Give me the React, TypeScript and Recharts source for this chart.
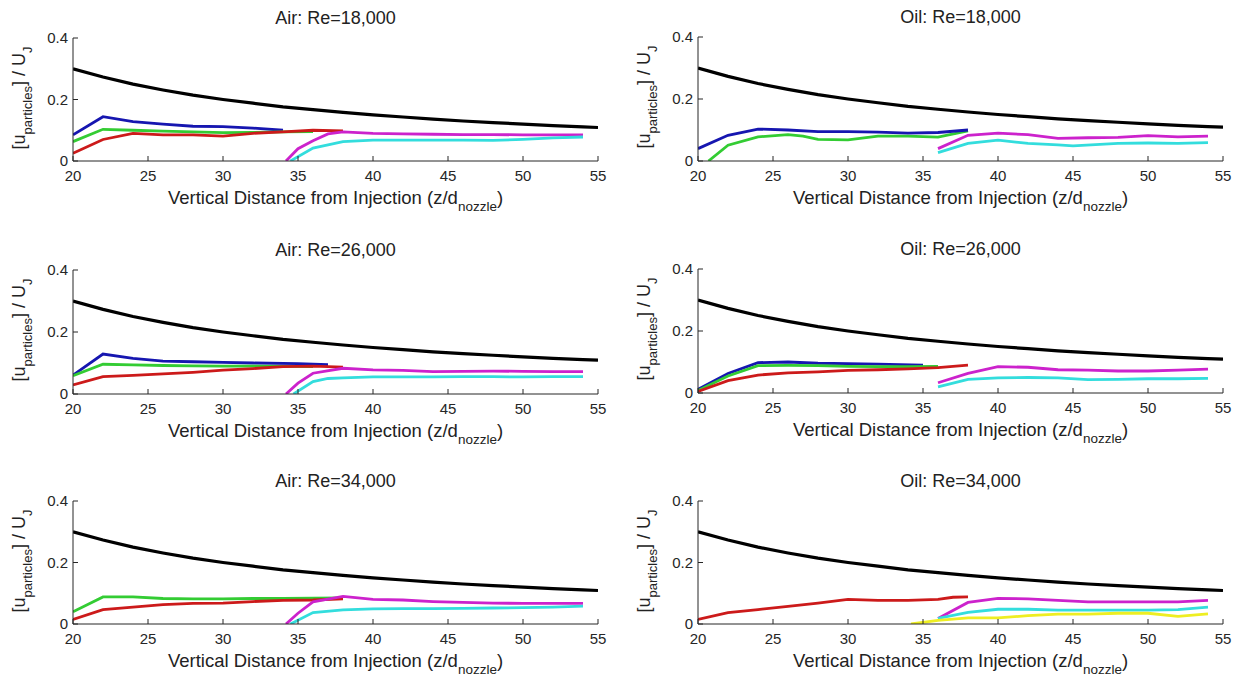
import React from 'react';
import { LineChart, Line, XAxis, YAxis } from 'recharts';

type Pt = [number, number];

const xTicks = [20, 25, 30, 35, 40, 45, 50, 55];
const yTicks = [0, 0.2, 0.4];

// Jet centreline velocity (black)
const jet: Pt[] = [[20, 0.3], [22, 0.273], [24, 0.25], [26, 0.231], [28, 0.214], [30, 0.2], [32, 0.188], [34, 0.176], [36, 0.167], [38, 0.158], [40, 0.15], [42, 0.143], [44, 0.136], [46, 0.13], [48, 0.125], [50, 0.12], [52, 0.115], [54, 0.111], [55, 0.109]];

// Air Re=18,000
const air18Blue: Pt[] = [[20, 0.085], [22, 0.144], [24, 0.128], [26, 0.12], [28, 0.113], [30, 0.112], [32, 0.107], [34, 0.1]];
const air18Green: Pt[] = [[20, 0.063], [22, 0.103], [24, 0.1], [26, 0.097], [28, 0.095], [30, 0.092], [32, 0.093], [34, 0.095], [36, 0.096]];
const air18Red: Pt[] = [[20, 0.025], [22, 0.07], [24, 0.09], [26, 0.085], [28, 0.085], [30, 0.081], [32, 0.09], [34, 0.095], [36, 0.1], [38, 0.098]];
const air18Magenta: Pt[] = [[34.2, 0], [35, 0.04], [36, 0.066], [37, 0.088], [38, 0.095], [40, 0.09], [42, 0.088], [44, 0.087], [46, 0.086], [48, 0.086], [50, 0.085], [52, 0.085], [54, 0.085]];
const air18Cyan: Pt[] = [[34.5, 0], [36, 0.042], [38, 0.063], [40, 0.068], [42, 0.068], [44, 0.068], [46, 0.068], [48, 0.067], [50, 0.07], [52, 0.075], [54, 0.078]];

// Oil Re=18,000
const oil18Blue: Pt[] = [[20, 0.04], [22, 0.083], [24, 0.103], [26, 0.1], [28, 0.095], [30, 0.095], [32, 0.093], [34, 0.09], [36, 0.092], [38, 0.1]];
const oil18Green: Pt[] = [[20.7, 0], [22, 0.051], [24, 0.078], [26, 0.085], [27, 0.08], [28, 0.07], [30, 0.068], [32, 0.08], [34, 0.08], [36, 0.077], [38, 0.097]];
const oil18Magenta: Pt[] = [[36, 0.04], [38, 0.083], [40, 0.09], [42, 0.085], [44, 0.073], [46, 0.075], [48, 0.076], [50, 0.082], [52, 0.078], [54, 0.08]];
const oil18Cyan: Pt[] = [[36, 0.027], [38, 0.057], [40, 0.067], [42, 0.057], [44, 0.052], [45, 0.049], [48, 0.057], [50, 0.058], [52, 0.057], [54, 0.059]];

// Air Re=26,000
const air26Blue: Pt[] = [[20, 0.061], [22, 0.129], [24, 0.115], [26, 0.106], [28, 0.104], [30, 0.102], [32, 0.1], [35, 0.098], [37, 0.095]];
const air26Green: Pt[] = [[20, 0.059], [22, 0.096], [24, 0.094], [26, 0.092], [28, 0.091], [30, 0.09], [32, 0.09], [34, 0.089], [36, 0.088]];
const air26Red: Pt[] = [[20, 0.029], [22, 0.056], [24, 0.06], [26, 0.065], [28, 0.07], [30, 0.077], [32, 0.082], [34, 0.088], [36, 0.09], [38, 0.087]];
const air26Magenta: Pt[] = [[34.2, 0], [35, 0.035], [36, 0.067], [38, 0.083], [40, 0.078], [42, 0.076], [44, 0.072], [46, 0.073], [48, 0.074], [50, 0.073], [52, 0.072], [54, 0.072]];
const air26Cyan: Pt[] = [[34.7, 0], [36, 0.04], [37, 0.05], [38, 0.052], [40, 0.055], [42, 0.055], [44, 0.055], [46, 0.056], [48, 0.056], [50, 0.055], [52, 0.056], [54, 0.056]];

// Oil Re=26,000
const oil26Blue: Pt[] = [[20, 0.012], [22, 0.063], [24, 0.098], [26, 0.1], [28, 0.096], [30, 0.095], [32, 0.093], [35, 0.09]];
const oil26Green: Pt[] = [[20, 0.008], [22, 0.055], [24, 0.088], [26, 0.089], [28, 0.088], [30, 0.086], [32, 0.085], [34, 0.085], [36, 0.086]];
const oil26Red: Pt[] = [[20, 0.005], [22, 0.04], [24, 0.058], [26, 0.065], [28, 0.068], [30, 0.073], [32, 0.075], [34, 0.078], [36, 0.082], [38, 0.09]];
const oil26Magenta: Pt[] = [[36, 0.033], [38, 0.063], [40, 0.085], [42, 0.083], [44, 0.075], [46, 0.074], [48, 0.071], [50, 0.071], [52, 0.074], [54, 0.077]];
const oil26Cyan: Pt[] = [[36, 0.02], [38, 0.044], [40, 0.049], [42, 0.05], [44, 0.049], [46, 0.043], [48, 0.044], [50, 0.046], [52, 0.046], [54, 0.047]];

// Air Re=34,000
const air34Green: Pt[] = [[20, 0.04], [22, 0.088], [24, 0.088], [26, 0.083], [28, 0.082], [30, 0.082], [32, 0.083], [34, 0.083], [36, 0.084], [38, 0.085]];
const air34Red: Pt[] = [[20, 0.015], [22, 0.047], [24, 0.055], [26, 0.063], [28, 0.067], [30, 0.068], [32, 0.073], [34, 0.077], [36, 0.078], [38, 0.082]];
const air34Magenta: Pt[] = [[34.2, 0], [35, 0.035], [36, 0.072], [38, 0.09], [40, 0.08], [42, 0.078], [44, 0.073], [46, 0.07], [48, 0.068], [50, 0.067], [52, 0.067], [54, 0.067]];
const air34Cyan: Pt[] = [[34.5, 0], [36, 0.037], [38, 0.046], [40, 0.049], [42, 0.05], [44, 0.05], [46, 0.051], [48, 0.052], [50, 0.053], [52, 0.055], [54, 0.058]];

// Oil Re=34,000
const oil34Red: Pt[] = [[20, 0.015], [22, 0.037], [24, 0.047], [26, 0.057], [28, 0.068], [30, 0.08], [32, 0.077], [34, 0.077], [36, 0.08], [37, 0.087], [38, 0.088]];
const oil34Magenta: Pt[] = [[36, 0.018], [38, 0.07], [40, 0.083], [42, 0.082], [44, 0.077], [46, 0.072], [48, 0.072], [50, 0.072], [52, 0.072], [54, 0.077]];
const oil34Cyan: Pt[] = [[36, 0.018], [38, 0.038], [40, 0.048], [42, 0.048], [44, 0.045], [46, 0.045], [48, 0.045], [50, 0.045], [52, 0.047], [54, 0.055]];
const oil34Yellow: Pt[] = [[34.2, 0], [36, 0.012], [38, 0.02], [40, 0.02], [42, 0.027], [44, 0.032], [46, 0.032], [48, 0.035], [50, 0.035], [52, 0.025], [54, 0.033]];

const C = {
  black: '#000000',
  blue: '#1616b0',
  green: '#33cc33',
  red: '#cc1a1a',
  magenta: '#cc22cc',
  cyan: '#33dddd',
  yellow: '#eeee22',
};

const FONT = '"Liberation Sans", Arial, Helvetica, sans-serif';
const AXIS = '#262626';

type Series = { data: Pt[]; color: string };
type Panel = { title: string; left: number; top: number; bottom: number; series: Series[] };

const panels: Panel[] = [
  { title: 'Air: Re=18,000', left: 73, top: 38, bottom: 161, series: [
    { data: air18Blue, color: C.blue }, { data: air18Green, color: C.green }, { data: air18Red, color: C.red },
    { data: air18Magenta, color: C.magenta }, { data: air18Cyan, color: C.cyan }, { data: jet, color: C.black } ] },
  { title: 'Oil: Re=18,000', left: 698, top: 37, bottom: 161, series: [
    { data: oil18Green, color: C.green }, { data: oil18Blue, color: C.blue },
    { data: oil18Magenta, color: C.magenta }, { data: oil18Cyan, color: C.cyan }, { data: jet, color: C.black } ] },
  { title: 'Air: Re=26,000', left: 73, top: 270, bottom: 394, series: [
    { data: air26Blue, color: C.blue }, { data: air26Green, color: C.green }, { data: air26Red, color: C.red },
    { data: air26Magenta, color: C.magenta }, { data: air26Cyan, color: C.cyan }, { data: jet, color: C.black } ] },
  { title: 'Oil: Re=26,000', left: 698, top: 269, bottom: 393, series: [
    { data: oil26Blue, color: C.blue }, { data: oil26Green, color: C.green }, { data: oil26Red, color: C.red },
    { data: oil26Magenta, color: C.magenta }, { data: oil26Cyan, color: C.cyan }, { data: jet, color: C.black } ] },
  { title: 'Air: Re=34,000', left: 73, top: 501, bottom: 624, series: [
    { data: air34Green, color: C.green }, { data: air34Red, color: C.red },
    { data: air34Magenta, color: C.magenta }, { data: air34Cyan, color: C.cyan }, { data: jet, color: C.black } ] },
  { title: 'Oil: Re=34,000', left: 698, top: 501, bottom: 624, series: [
    { data: oil34Red, color: C.red }, { data: oil34Magenta, color: C.magenta },
    { data: oil34Cyan, color: C.cyan }, { data: oil34Yellow, color: C.yellow }, { data: jet, color: C.black } ] },
];

const PLOT_W = 525;
const ML = 60; // y-axis width
const MT = 10;
const MR = 15;
const XH = 40;

const toPts = (p: Pt[]) => p.map(([z, v]) => ({ z, v }));

const XTick = (props: any) => {
  const { x, y, payload } = props;
  return (
    <g>
      <line x1={x} x2={x} y1={y} y2={y - 5} stroke={AXIS} strokeWidth={1} />
      <text x={x} y={y + 20} textAnchor="middle" fontSize={15} fontFamily={FONT} fill={AXIS}>{payload.value}</text>
    </g>
  );
};

const YTick = (props: any) => {
  const { x, y, payload } = props;
  return (
    <g>
      <line x1={x} x2={x + 5} y1={y} y2={y} stroke={AXIS} strokeWidth={1} />
      <text x={x - 5} y={y + 5} textAnchor="end" fontSize={15} fontFamily={FONT} fill={AXIS}>{payload.value}</text>
    </g>
  );
};

function PanelChart({ p }: { p: Panel }) {
  const plotH = p.bottom - p.top;
  const cx = p.left + PLOT_W / 2;
  const cy = (p.top + p.bottom) / 2;
  return (
    <>
      <div style={{ position: 'absolute', left: p.left - ML, top: p.top - MT }}>
        <LineChart width={ML + PLOT_W + MR} height={MT + plotH + XH} margin={{ top: MT, right: MR, bottom: 0, left: 0 }}>
          <XAxis type="number" dataKey="z" domain={[20, 55]} ticks={xTicks} allowDataOverflow height={XH}
            tickSize={0} tickMargin={0} tickLine={false} axisLine={{ stroke: AXIS, strokeWidth: 1 }} tick={<XTick />} interval={0} />
          <YAxis type="number" domain={[0, 0.4]} ticks={yTicks} allowDataOverflow width={ML}
            tickSize={0} tickMargin={0} tickLine={false} axisLine={{ stroke: AXIS, strokeWidth: 1 }} tick={<YTick />} interval={0} />
          {p.series.map((s, i) => (
            <Line key={i} data={toPts(s.data)} dataKey="v" type="linear" stroke={s.color}
              strokeWidth={s.color === C.black ? 3.2 : 2.8} dot={false} activeDot={false} isAnimationActive={false} />
          ))}
        </LineChart>
      </div>
      <div style={{ position: 'absolute', left: cx - 150, width: 300, top: p.top - 30, height: 20, lineHeight: '20px',
        textAlign: 'center', fontSize: 18, fontFamily: FONT, color: '#222', whiteSpace: 'nowrap' }}>{p.title}</div>
      <div style={{ position: 'absolute', left: cx - 250, width: 500, top: p.bottom + 28, lineHeight: 1,
        textAlign: 'center', fontSize: 18.5, fontFamily: FONT, color: '#222', whiteSpace: 'nowrap' }}>
        Vertical Distance from Injection (z/d<span style={{ fontSize: 13.5, position: 'relative', top: 7 }}>nozzle</span>)
      </div>
      <div style={{ position: 'absolute', left: p.left - 54, top: cy - 2, lineHeight: 1, fontSize: 18, fontFamily: FONT,
        color: '#222', whiteSpace: 'nowrap', transform: 'translate(-50%, -50%) rotate(-90deg)' }}>
        [u<span style={{ fontSize: 13, position: 'relative', top: 7 }}>particles</span>] / U<span style={{ fontSize: 13, position: 'relative', top: 7 }}>J</span>
      </div>
    </>
  );
}

export default function App() {
  return (
    <div style={{ position: 'absolute', left: 0, top: 0, width: 1234, height: 679, background: '#fff', overflow: 'hidden' }}>
      {panels.map((p, i) => <PanelChart key={i} p={p} />)}
    </div>
  );
}
